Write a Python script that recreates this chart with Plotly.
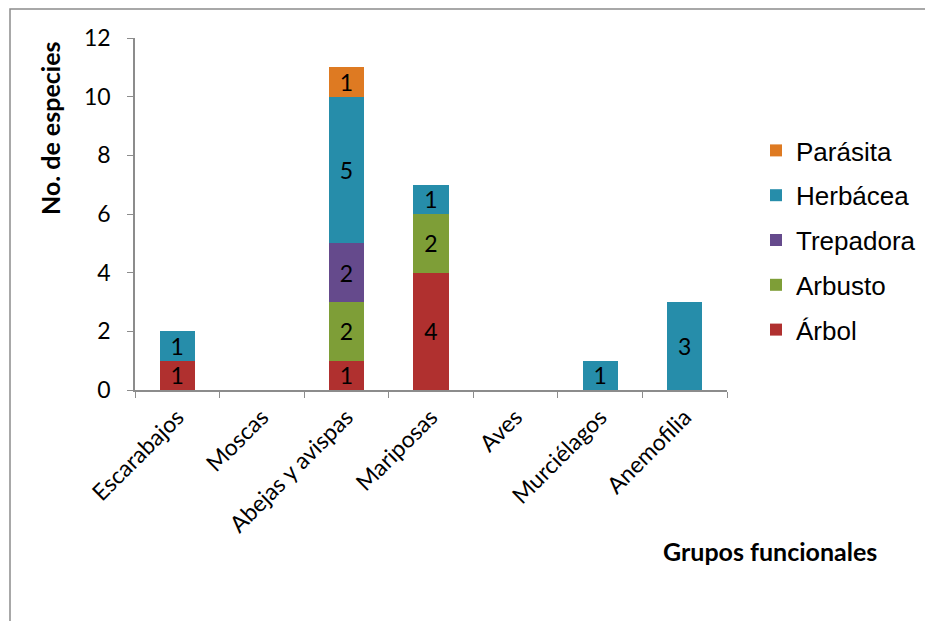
import plotly.graph_objects as go

categories = ["Escarabajos", "Moscas", "Abejas y avispas", "Mariposas", "Aves", "Murciélagos", "Anemofilia"]
arbol = [1, 0, 1, 4, 0, 0, 0]
arbusto = [0, 0, 2, 2, 0, 0, 0]
trepadora = [0, 0, 2, 0, 0, 0, 0]
herbacea = [1, 0, 5, 1, 0, 1, 3]
parasita = [0, 0, 1, 0, 0, 0, 0]
y_ticks = [0, 2, 4, 6, 8, 10, 12]

series = [
    ("Árbol", arbol, "#B0302F"),
    ("Arbusto", arbusto, "#7E9E37"),
    ("Trepadora", trepadora, "#654A8C"),
    ("Herbácea", herbacea, "#268DAA"),
    ("Parásita", parasita, "#DE7A22"),
]

L, R, T, B = 135, 198, 38, 231
W, H = 925, 621
pw, ph = W - L - R, H - T - B

fig = go.Figure()
n = len(series)
for i, (name, vals, col) in enumerate(series):
    fig.add_trace(go.Bar(
        x=categories, y=vals, name=name,
        marker=dict(color=col, line=dict(width=0)),
        text=[str(v) if v else "" for v in vals],
        textposition="inside", insidetextanchor="middle", textangle=0,
        constraintext="none",
        textfont=dict(family="Lato", size=23, color="black"),
        legendgroup=name, legendrank=n - i,
    ))

def px_x(x):
    return (x - L) / pw

def px_y(y):
    return (H - B - y) / ph

fig.update_layout(
    width=W, height=H,
    margin=dict(l=L, r=R, t=T, b=B, pad=0, autoexpand=False),
    barmode="stack", bargap=0.585,
    plot_bgcolor="white", paper_bgcolor="white",
    showlegend=True,
    uniformtext=dict(minsize=23, mode="show"),
    legend=dict(
        x=px_x(756), y=px_y(127), xanchor="left", yanchor="top",
        traceorder="grouped", tracegroupgap=8.0,
        font=dict(family="Liberation Sans", size=26, color="black"),
        itemwidth=30,
    ),
    xaxis=dict(
        type="category", tickson="boundaries", ticks="outside", ticklen=6,
        tickcolor="#8c8c8c", showline=True, linecolor="#8c8c8c", linewidth=1.5,
        tickangle=-45, showgrid=False, ticklabelstandoff=3,
        tickfont=dict(family="Lato", size=23, color="black"),
    ),
    yaxis=dict(
        range=[0, 12], tickvals=y_ticks, ticks="outside", ticklen=6,
        tickcolor="#8c8c8c", showline=True, linecolor="#8c8c8c", linewidth=1.5,
        showgrid=False, zeroline=False, ticklabelstandoff=12,
        tickfont=dict(family="Lato", size=23, color="black"),
    ),
    annotations=[
        dict(text="<b>No. de especies</b>", xref="paper", yref="paper",
             x=px_x(50), y=px_y(128), textangle=-90, showarrow=False,
             font=dict(family="Lato", size=25, color="black"),
             xanchor="center", yanchor="middle"),
        dict(text="<b>Grupos funcionales</b>", xref="paper", yref="paper",
             x=px_x(770), y=px_y(551), showarrow=False,
             font=dict(family="Lato", size=25, color="black"),
             xanchor="center", yanchor="middle"),
    ],
    shapes=[
        dict(type="rect", xref="paper", yref="paper",
             x0=px_x(10), x1=px_x(960), y0=px_y(660), y1=px_y(9),
             line=dict(color="#8c8c8c", width=1.5), fillcolor="rgba(0,0,0,0)",
             layer="below"),
    ],
)

fig.write_html("out.html")
